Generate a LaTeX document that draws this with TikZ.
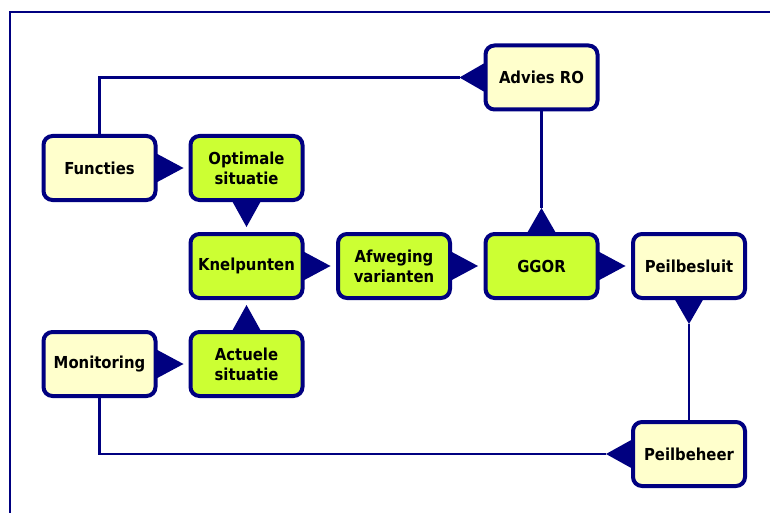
\documentclass[tikz,border=0pt]{standalone}
\usepackage{fontspec}
\setmainfont{DejaVu Sans Condensed}
\usetikzlibrary{calc}
\definecolor{navy}{HTML}{000080}
\definecolor{paleyellow}{HTML}{FFFFCC}
\definecolor{lime}{HTML}{CCFF33}
\begin{document}
\begin{tikzpicture}[x=1pt,y=-1pt,
  box/.style={draw=navy, line width=4pt, rounded corners=9pt,
    minimum width=112pt, minimum height=64pt, align=center,
    font=\fontsize{16.5}{20}\selectfont\bfseries, inner sep=2pt},
  ybox/.style={box, fill=paleyellow},
  gbox/.style={box, fill=lime},
  conn/.style={draw=navy, line width=2.4pt},
  tri/.style={fill=navy}]
\useasboundingbox (0,0) rectangle (770,513);
% frame
\draw[navy, line width=2.3pt] (770,12) -- (10,12) -- (10,513);

% nodes
\node[ybox] (functies)   at (99.5,168)  {Functies};
\node[gbox] (optimale)   at (246.5,168) {Optimale\\situatie};
\node[gbox] (knel)       at (246.5,266) {Knelpunten};
\node[gbox] (actuele)    at (246.5,364) {Actuele\\situatie};
\node[ybox] (monitoring) at (99.5,364)  {Monitoring};
\node[gbox] (afweging)   at (394,266)   {Afweging\\varianten};
\node[gbox] (ggor)       at (541.5,266) {GGOR};
\node[ybox] (besluit)    at (689,266)   {Peilbesluit};
\node[ybox] (beheer)     at (689,454)   {Peilbeheer};
\node[ybox] (advies)     at (541.5,77.5){Advies RO};

% triangle tips
\coordinate (tFun) at ($(functies.east)+(26,0)$);
\coordinate (tMon) at ($(monitoring.east)+(26,0)$);
\coordinate (tKne) at ($(knel.east)+(26,0)$);
\coordinate (tAfw) at ($(afweging.east)+(26,0)$);
\coordinate (tGgr) at ($(ggor.east)+(26,0)$);
\coordinate (tOpt) at ($(optimale.south)+(0,25)$);
\coordinate (tAct) at ($(actuele.north)+(0,-25)$);
\coordinate (tGup) at ($(ggor.north)+(0,-24)$);
\coordinate (tBes) at ($(besluit.south)+(0,24)$);
\coordinate (tAdv) at ($(advies.west)+(-24,0)$);
\coordinate (tBeh) at ($(beheer.west)+(-25,0)$);

% right-pointing triangles
\foreach \n/\t in {functies/tFun, monitoring/tMon, knel/tKne, afweging/tAfw, ggor/tGgr}
  \fill[tri] ($(\n.east)+(-2,-15)$) -- (\t) -- ($(\n.east)+(-2,15)$) -- cycle;
% left-pointing
\foreach \n/\t in {advies/tAdv, beheer/tBeh}
  \fill[tri] ($(\n.west)+(2,-15)$) -- (\t) -- ($(\n.west)+(2,15)$) -- cycle;
% down-pointing
\foreach \n/\t in {optimale/tOpt, besluit/tBes}
  \fill[tri] ($(\n.south)+(-15,-2)$) -- (\t) -- ($(\n.south)+(15,-2)$) -- cycle;
% up-pointing
\foreach \n/\t in {actuele/tAct, ggor/tGup}
  \fill[tri] ($(\n.north)+(-15,2)$) -- (\t) -- ($(\n.north)+(15,2)$) -- cycle;

% connectors
\draw[conn] (tAdv) -| (functies.north);
\draw[conn] (advies.south) -- (tGup);
\draw[conn] (tBes) -- (beheer.north);
\draw[conn] (tBeh) -| (monitoring.south);
\end{tikzpicture}
\end{document}
